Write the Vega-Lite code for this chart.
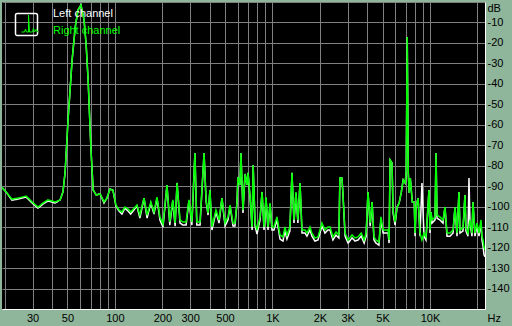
{
  "$schema": "https://vega.github.io/schema/vega-lite/v6.json",
  "width": 483,
  "height": 307,
  "autosize": {"type": "none"},
  "padding": {"left": 2, "top": 2, "right": 27, "bottom": 17},
  "background": "#8fb59a",
  "config": {
    "view": {"fill": "#000000", "stroke": null},
    "font": "Liberation Sans",
    "axis": {"labelFont": "Liberation Sans", "labelFontSize": 11, "labelColor": "#000000"}
  },
  "data": {"values": [
    {"channel":"Left channel","freq":19.1,"db":-90.4},{"channel":"Left channel","freq":20.6,"db":-93.3},{"channel":"Left channel","freq":22.2,"db":-96.8},{"channel":"Left channel","freq":24.3,"db":-96.3},{"channel":"Left channel","freq":27.3,"db":-95.3},{"channel":"Left channel","freq":29.8,"db":-98.2},{"channel":"Left channel","freq":32.5,"db":-100.7},{"channel":"Left channel","freq":35,"db":-98.7},{"channel":"Left channel","freq":37.6,"db":-97.2},{"channel":"Left channel","freq":41.7,"db":-98.2},{"channel":"Left channel","freq":44.9,"db":-96.7},{"channel":"Left channel","freq":46.8,"db":-92.8},{"channel":"Left channel","freq":48.3,"db":-83.1},{"channel":"Left channel","freq":50.4,"db":-57.7},{"channel":"Left channel","freq":53.5,"db":-28.3},{"channel":"Left channel","freq":56,"db":-12.2},{"channel":"Left channel","freq":58.3,"db":-3.9},{"channel":"Left channel","freq":60.9,"db":-1.5},{"channel":"Left channel","freq":63.7,"db":-8.8},{"channel":"Left channel","freq":65.7,"db":-21.0},{"channel":"Left channel","freq":67.6,"db":-38.1},{"channel":"Left channel","freq":70.5,"db":-72.3},{"channel":"Left channel","freq":72.8,"db":-91.9},{"channel":"Left channel","freq":76.1,"db":-94.3},{"channel":"Left channel","freq":80.6,"db":-93.8},{"channel":"Left channel","freq":85.3,"db":-98.2},{"channel":"Left channel","freq":89,"db":-95.8},{"channel":"Left channel","freq":93,"db":-91.4},{"channel":"Left channel","freq":97.2,"db":-91.9},{"channel":"Left channel","freq":101.5,"db":-99.7},{"channel":"Left channel","freq":106,"db":-102.1},{"channel":"Left channel","freq":110.8,"db":-103.6},{"channel":"Left channel","freq":115.7,"db":-100.7},{"channel":"Left channel","freq":121,"db":-102.1},{"channel":"Left channel","freq":126,"db":-103.6},{"channel":"Left channel","freq":138,"db":-99.7},{"channel":"Left channel","freq":144,"db":-105.6},{"channel":"Left channel","freq":153,"db":-95.8},{"channel":"Left channel","freq":160,"db":-105.6},{"channel":"Left channel","freq":169,"db":-98.2},{"channel":"Left channel","freq":177,"db":-103.6},{"channel":"Left channel","freq":185,"db":-95.8},{"channel":"Left channel","freq":193,"db":-106.5},{"channel":"Left channel","freq":202,"db":-110.0},{"channel":"Left channel","freq":214,"db":-89.4},{"channel":"Left channel","freq":223,"db":-109.0},{"channel":"Left channel","freq":233,"db":-97.2},{"channel":"Left channel","freq":241,"db":-109.5},{"channel":"Left channel","freq":248,"db":-88.4},{"channel":"Left channel","freq":259,"db":-108.0},{"channel":"Left channel","freq":270,"db":-109.0},{"channel":"Left channel","freq":283,"db":-109.0},{"channel":"Left channel","freq":295,"db":-97.2},{"channel":"Left channel","freq":308,"db":-109.0},{"channel":"Left channel","freq":322,"db":-73.8},{"channel":"Left channel","freq":331,"db":-109.0},{"channel":"Left channel","freq":347,"db":-109.0},{"channel":"Left channel","freq":368,"db":-73.8},{"channel":"Left channel","freq":379,"db":-97.2},{"channel":"Left channel","freq":390,"db":-104.1},{"channel":"Left channel","freq":401,"db":-91.9},{"channel":"Left channel","freq":413,"db":-111.4},{"channel":"Left channel","freq":438,"db":-102.6},{"channel":"Left channel","freq":458,"db":-108.0},{"channel":"Left channel","freq":478,"db":-95.8},{"channel":"Left channel","freq":500,"db":-109.5},{"channel":"Left channel","freq":522,"db":-106.5},{"channel":"Left channel","freq":538,"db":-99.7},{"channel":"Left channel","freq":562,"db":-109.5},{"channel":"Left channel","freq":578,"db":-109.5},{"channel":"Left channel","freq":595,"db":-98.7},{"channel":"Left channel","freq":604,"db":-85.5},{"channel":"Left channel","freq":622,"db":-89.4},{"channel":"Left channel","freq":631,"db":-73.8},{"channel":"Left channel","freq":650,"db":-103.1},{"channel":"Left channel","freq":670,"db":-84.0},{"channel":"Left channel","freq":690,"db":-89.4},{"channel":"Left channel","freq":700,"db":-83.5},{"channel":"Left channel","freq":721,"db":-95.8},{"channel":"Left channel","freq":743,"db":-111.4},{"channel":"Left channel","freq":754,"db":-79.6},{"channel":"Left channel","freq":776,"db":-109.5},{"channel":"Left channel","freq":798,"db":-113.4},{"channel":"Left channel","freq":834,"db":-106.5},{"channel":"Left channel","freq":859,"db":-92.8},{"channel":"Left channel","freq":884,"db":-111.4},{"channel":"Left channel","freq":910,"db":-95.8},{"channel":"Left channel","freq":937,"db":-111.4},{"channel":"Left channel","freq":965,"db":-98.7},{"channel":"Left channel","freq":993,"db":-111.4},{"channel":"Left channel","freq":1022,"db":-111.4},{"channel":"Left channel","freq":1068,"db":-106.5},{"channel":"Left channel","freq":1116,"db":-115.8},{"channel":"Left channel","freq":1166,"db":-116.8},{"channel":"Left channel","freq":1200,"db":-111.9},{"channel":"Left channel","freq":1236,"db":-115.8},{"channel":"Left channel","freq":1290,"db":-111.9},{"channel":"Left channel","freq":1330,"db":-83.5},{"channel":"Left channel","freq":1370,"db":-108.0},{"channel":"Left channel","freq":1410,"db":-93.3},{"channel":"Left channel","freq":1450,"db":-108.0},{"channel":"Left channel","freq":1496,"db":-88.4},{"channel":"Left channel","freq":1540,"db":-112.9},{"channel":"Left channel","freq":1610,"db":-112.9},{"channel":"Left channel","freq":1655,"db":-114.4},{"channel":"Left channel","freq":1730,"db":-111.4},{"channel":"Left channel","freq":1780,"db":-114.4},{"channel":"Left channel","freq":1860,"db":-116.8},{"channel":"Left channel","freq":1945,"db":-116.3},{"channel":"Left channel","freq":2060,"db":-109.5},{"channel":"Left channel","freq":2155,"db":-112.9},{"channel":"Left channel","freq":2250,"db":-111.4},{"channel":"Left channel","freq":2320,"db":-111.4},{"channel":"Left channel","freq":2420,"db":-116.3},{"channel":"Left channel","freq":2530,"db":-113.9},{"channel":"Left channel","freq":2640,"db":-115.3},{"channel":"Left channel","freq":2680,"db":-86.0},{"channel":"Left channel","freq":2760,"db":-86.0},{"channel":"Left channel","freq":2800,"db":-93.3},{"channel":"Left channel","freq":2890,"db":-114.4},{"channel":"Left channel","freq":3020,"db":-117.8},{"channel":"Left channel","freq":3200,"db":-115.3},{"channel":"Left channel","freq":3340,"db":-116.8},{"channel":"Left channel","freq":3490,"db":-116.3},{"channel":"Left channel","freq":3660,"db":-114.4},{"channel":"Left channel","freq":3820,"db":-117.8},{"channel":"Left channel","freq":3930,"db":-114.4},{"channel":"Left channel","freq":4040,"db":-92.8},{"channel":"Left channel","freq":4170,"db":-109.5},{"channel":"Left channel","freq":4290,"db":-97.7},{"channel":"Left channel","freq":4410,"db":-116.3},{"channel":"Left channel","freq":4540,"db":-117.8},{"channel":"Left channel","freq":4740,"db":-118.8},{"channel":"Left channel","freq":4880,"db":-106.5},{"channel":"Left channel","freq":5040,"db":-112.9},{"channel":"Left channel","freq":5250,"db":-112.9},{"channel":"Left channel","freq":5420,"db":-112.9},{"channel":"Left channel","freq":5500,"db":-117.8},{"channel":"Left channel","freq":5580,"db":-77.2},{"channel":"Left channel","freq":5740,"db":-78.7},{"channel":"Left channel","freq":5830,"db":-103.1},{"channel":"Left channel","freq":6000,"db":-109.0},{"channel":"Left channel","freq":6180,"db":-100.2},{"channel":"Left channel","freq":6370,"db":-98.2},{"channel":"Left channel","freq":6560,"db":-93.3},{"channel":"Left channel","freq":6760,"db":-86.9},{"channel":"Left channel","freq":6960,"db":-88.4},{"channel":"Left channel","freq":7060,"db":-83.1},{"channel":"Left channel","freq":7170,"db":-17.1},{"channel":"Left channel","freq":7280,"db":-83.5},{"channel":"Left channel","freq":7380,"db":-93.3},{"channel":"Left channel","freq":7500,"db":-86.0},{"channel":"Left channel","freq":7720,"db":-97.7},{"channel":"Left channel","freq":7940,"db":-97.7},{"channel":"Left channel","freq":8040,"db":-114.4},{"channel":"Left channel","freq":8150,"db":-100.2},{"channel":"Left channel","freq":8400,"db":-95.8},{"channel":"Left channel","freq":8640,"db":-114.4},{"channel":"Left channel","freq":8890,"db":-88.4},{"channel":"Left channel","freq":9160,"db":-114.4},{"channel":"Left channel","freq":9430,"db":-116.3},{"channel":"Left channel","freq":9850,"db":-91.9},{"channel":"Left channel","freq":10000,"db":-112.9},{"channel":"Left channel","freq":10150,"db":-102.6},{"channel":"Left channel","freq":10300,"db":-108.0},{"channel":"Left channel","freq":10760,"db":-106.5},{"channel":"Left channel","freq":10920,"db":-73.8},{"channel":"Left channel","freq":11080,"db":-105.6},{"channel":"Left channel","freq":11570,"db":-106.5},{"channel":"Left channel","freq":12090,"db":-108.0},{"channel":"Left channel","freq":12450,"db":-100.2},{"channel":"Left channel","freq":12820,"db":-114.4},{"channel":"Left channel","freq":13400,"db":-114.4},{"channel":"Left channel","freq":14000,"db":-112.9},{"channel":"Left channel","freq":14410,"db":-100.2},{"channel":"Left channel","freq":14840,"db":-114.4},{"channel":"Left channel","freq":15270,"db":-92.8},{"channel":"Left channel","freq":15500,"db":-112.9},{"channel":"Left channel","freq":16190,"db":-111.9},{"channel":"Left channel","freq":16670,"db":-94.3},{"channel":"Left channel","freq":16920,"db":-111.9},{"channel":"Left channel","freq":17420,"db":-114.4},{"channel":"Left channel","freq":17680,"db":-86.0},{"channel":"Left channel","freq":17940,"db":-108.0},{"channel":"Left channel","freq":18470,"db":-114.4},{"channel":"Left channel","freq":18740,"db":-97.7},{"channel":"Left channel","freq":19300,"db":-114.4},{"channel":"Left channel","freq":19870,"db":-109.5},{"channel":"Left channel","freq":20460,"db":-114.4},{"channel":"Left channel","freq":21070,"db":-108.0},{"channel":"Left channel","freq":21380,"db":-116.3},{"channel":"Left channel","freq":21700,"db":-119.3},{"channel":"Left channel","freq":22020,"db":-123.5},{"channel":"Left channel","freq":22340,"db":-124.5},
    {"channel":"Right channel","freq":19.1,"db":-90.4},{"channel":"Right channel","freq":20.6,"db":-93.3},{"channel":"Right channel","freq":22.2,"db":-96.3},{"channel":"Right channel","freq":24.3,"db":-95.8},{"channel":"Right channel","freq":27.3,"db":-94.8},{"channel":"Right channel","freq":29.8,"db":-97.7},{"channel":"Right channel","freq":32.5,"db":-100.2},{"channel":"Right channel","freq":35,"db":-98.2},{"channel":"Right channel","freq":37.6,"db":-96.7},{"channel":"Right channel","freq":41.7,"db":-97.7},{"channel":"Right channel","freq":44.9,"db":-96.7},{"channel":"Right channel","freq":46.8,"db":-92.8},{"channel":"Right channel","freq":48.3,"db":-83.1},{"channel":"Right channel","freq":50.4,"db":-57.7},{"channel":"Right channel","freq":53.5,"db":-28.3},{"channel":"Right channel","freq":56,"db":-12.2},{"channel":"Right channel","freq":58.3,"db":-3.9},{"channel":"Right channel","freq":60.9,"db":-1.5},{"channel":"Right channel","freq":63.7,"db":-8.8},{"channel":"Right channel","freq":65.7,"db":-21.0},{"channel":"Right channel","freq":67.6,"db":-38.1},{"channel":"Right channel","freq":70.5,"db":-72.3},{"channel":"Right channel","freq":72.8,"db":-91.9},{"channel":"Right channel","freq":76.1,"db":-94.3},{"channel":"Right channel","freq":80.6,"db":-93.8},{"channel":"Right channel","freq":85.3,"db":-97.7},{"channel":"Right channel","freq":89,"db":-95.8},{"channel":"Right channel","freq":93,"db":-91.4},{"channel":"Right channel","freq":97.2,"db":-91.9},{"channel":"Right channel","freq":101.5,"db":-99.2},{"channel":"Right channel","freq":106,"db":-101.6},{"channel":"Right channel","freq":110.8,"db":-102.6},{"channel":"Right channel","freq":115.7,"db":-100.2},{"channel":"Right channel","freq":121,"db":-101.1},{"channel":"Right channel","freq":126,"db":-102.6},{"channel":"Right channel","freq":138,"db":-99.2},{"channel":"Right channel","freq":144,"db":-104.1},{"channel":"Right channel","freq":153,"db":-95.8},{"channel":"Right channel","freq":160,"db":-104.1},{"channel":"Right channel","freq":169,"db":-97.7},{"channel":"Right channel","freq":177,"db":-102.6},{"channel":"Right channel","freq":185,"db":-95.3},{"channel":"Right channel","freq":193,"db":-105.0},{"channel":"Right channel","freq":202,"db":-108.5},{"channel":"Right channel","freq":214,"db":-89.4},{"channel":"Right channel","freq":223,"db":-107.5},{"channel":"Right channel","freq":233,"db":-96.7},{"channel":"Right channel","freq":241,"db":-108.0},{"channel":"Right channel","freq":248,"db":-88.4},{"channel":"Right channel","freq":259,"db":-106.5},{"channel":"Right channel","freq":270,"db":-107.5},{"channel":"Right channel","freq":283,"db":-107.5},{"channel":"Right channel","freq":295,"db":-96.7},{"channel":"Right channel","freq":308,"db":-107.5},{"channel":"Right channel","freq":322,"db":-73.8},{"channel":"Right channel","freq":331,"db":-107.5},{"channel":"Right channel","freq":347,"db":-107.5},{"channel":"Right channel","freq":368,"db":-73.8},{"channel":"Right channel","freq":379,"db":-96.7},{"channel":"Right channel","freq":390,"db":-103.1},{"channel":"Right channel","freq":401,"db":-91.9},{"channel":"Right channel","freq":413,"db":-109.9},{"channel":"Right channel","freq":438,"db":-101.6},{"channel":"Right channel","freq":458,"db":-106.5},{"channel":"Right channel","freq":478,"db":-95.8},{"channel":"Right channel","freq":500,"db":-108.0},{"channel":"Right channel","freq":522,"db":-105.0},{"channel":"Right channel","freq":538,"db":-99.2},{"channel":"Right channel","freq":562,"db":-108.0},{"channel":"Right channel","freq":578,"db":-108.0},{"channel":"Right channel","freq":595,"db":-98.2},{"channel":"Right channel","freq":604,"db":-85.5},{"channel":"Right channel","freq":622,"db":-89.4},{"channel":"Right channel","freq":631,"db":-73.8},{"channel":"Right channel","freq":650,"db":-101.6},{"channel":"Right channel","freq":670,"db":-84.0},{"channel":"Right channel","freq":690,"db":-89.4},{"channel":"Right channel","freq":700,"db":-83.5},{"channel":"Right channel","freq":721,"db":-95.3},{"channel":"Right channel","freq":743,"db":-109.9},{"channel":"Right channel","freq":754,"db":-79.6},{"channel":"Right channel","freq":776,"db":-108.0},{"channel":"Right channel","freq":798,"db":-111.4},{"channel":"Right channel","freq":834,"db":-105.0},{"channel":"Right channel","freq":859,"db":-92.8},{"channel":"Right channel","freq":884,"db":-109.9},{"channel":"Right channel","freq":910,"db":-95.3},{"channel":"Right channel","freq":937,"db":-109.9},{"channel":"Right channel","freq":965,"db":-98.2},{"channel":"Right channel","freq":993,"db":-109.9},{"channel":"Right channel","freq":1022,"db":-109.9},{"channel":"Right channel","freq":1068,"db":-105.0},{"channel":"Right channel","freq":1116,"db":-113.8},{"channel":"Right channel","freq":1166,"db":-114.8},{"channel":"Right channel","freq":1200,"db":-109.9},{"channel":"Right channel","freq":1236,"db":-113.8},{"channel":"Right channel","freq":1290,"db":-109.9},{"channel":"Right channel","freq":1330,"db":-83.5},{"channel":"Right channel","freq":1370,"db":-106.5},{"channel":"Right channel","freq":1410,"db":-92.8},{"channel":"Right channel","freq":1450,"db":-106.5},{"channel":"Right channel","freq":1496,"db":-88.4},{"channel":"Right channel","freq":1540,"db":-111.4},{"channel":"Right channel","freq":1610,"db":-111.4},{"channel":"Right channel","freq":1655,"db":-112.9},{"channel":"Right channel","freq":1730,"db":-109.9},{"channel":"Right channel","freq":1780,"db":-112.9},{"channel":"Right channel","freq":1860,"db":-115.3},{"channel":"Right channel","freq":1945,"db":-114.8},{"channel":"Right channel","freq":2060,"db":-108.0},{"channel":"Right channel","freq":2155,"db":-111.4},{"channel":"Right channel","freq":2250,"db":-109.9},{"channel":"Right channel","freq":2320,"db":-109.9},{"channel":"Right channel","freq":2420,"db":-114.8},{"channel":"Right channel","freq":2530,"db":-112.4},{"channel":"Right channel","freq":2640,"db":-113.8},{"channel":"Right channel","freq":2680,"db":-86.0},{"channel":"Right channel","freq":2760,"db":-86.0},{"channel":"Right channel","freq":2800,"db":-93.3},{"channel":"Right channel","freq":2890,"db":-112.9},{"channel":"Right channel","freq":3020,"db":-116.3},{"channel":"Right channel","freq":3200,"db":-113.8},{"channel":"Right channel","freq":3340,"db":-115.3},{"channel":"Right channel","freq":3490,"db":-114.8},{"channel":"Right channel","freq":3660,"db":-112.9},{"channel":"Right channel","freq":3820,"db":-116.3},{"channel":"Right channel","freq":3930,"db":-112.9},{"channel":"Right channel","freq":4040,"db":-92.8},{"channel":"Right channel","freq":4170,"db":-108.0},{"channel":"Right channel","freq":4290,"db":-97.7},{"channel":"Right channel","freq":4410,"db":-114.8},{"channel":"Right channel","freq":4540,"db":-116.3},{"channel":"Right channel","freq":4740,"db":-117.3},{"channel":"Right channel","freq":4880,"db":-105.0},{"channel":"Right channel","freq":5040,"db":-111.4},{"channel":"Right channel","freq":5250,"db":-111.4},{"channel":"Right channel","freq":5420,"db":-111.4},{"channel":"Right channel","freq":5500,"db":-116.3},{"channel":"Right channel","freq":5580,"db":-77.2},{"channel":"Right channel","freq":5740,"db":-78.7},{"channel":"Right channel","freq":5830,"db":-101.6},{"channel":"Right channel","freq":6000,"db":-107.5},{"channel":"Right channel","freq":6180,"db":-100.2},{"channel":"Right channel","freq":6370,"db":-98.2},{"channel":"Right channel","freq":6560,"db":-93.3},{"channel":"Right channel","freq":6760,"db":-86.9},{"channel":"Right channel","freq":6960,"db":-88.4},{"channel":"Right channel","freq":7060,"db":-83.1},{"channel":"Right channel","freq":7170,"db":-17.1},{"channel":"Right channel","freq":7280,"db":-83.5},{"channel":"Right channel","freq":7380,"db":-93.3},{"channel":"Right channel","freq":7500,"db":-86.0},{"channel":"Right channel","freq":7720,"db":-97.7},{"channel":"Right channel","freq":7940,"db":-97.7},{"channel":"Right channel","freq":8040,"db":-112.9},{"channel":"Right channel","freq":8150,"db":-100.2},{"channel":"Right channel","freq":8400,"db":-95.8},{"channel":"Right channel","freq":8640,"db":-112.9},{"channel":"Right channel","freq":8890,"db":-116.3},{"channel":"Right channel","freq":9160,"db":-112.9},{"channel":"Right channel","freq":9430,"db":-114.8},{"channel":"Right channel","freq":9850,"db":-91.9},{"channel":"Right channel","freq":10000,"db":-111.4},{"channel":"Right channel","freq":10150,"db":-102.6},{"channel":"Right channel","freq":10300,"db":-106.5},{"channel":"Right channel","freq":10760,"db":-105.0},{"channel":"Right channel","freq":10920,"db":-73.8},{"channel":"Right channel","freq":11080,"db":-104.1},{"channel":"Right channel","freq":11570,"db":-105.0},{"channel":"Right channel","freq":12090,"db":-106.5},{"channel":"Right channel","freq":12450,"db":-100.2},{"channel":"Right channel","freq":12820,"db":-112.9},{"channel":"Right channel","freq":13400,"db":-112.9},{"channel":"Right channel","freq":14000,"db":-111.4},{"channel":"Right channel","freq":14410,"db":-100.2},{"channel":"Right channel","freq":14840,"db":-112.9},{"channel":"Right channel","freq":15270,"db":-92.8},{"channel":"Right channel","freq":15500,"db":-111.4},{"channel":"Right channel","freq":16190,"db":-110.4},{"channel":"Right channel","freq":16670,"db":-94.3},{"channel":"Right channel","freq":16920,"db":-110.4},{"channel":"Right channel","freq":17420,"db":-112.9},{"channel":"Right channel","freq":17940,"db":-106.5},{"channel":"Right channel","freq":18470,"db":-112.9},{"channel":"Right channel","freq":18740,"db":-97.7},{"channel":"Right channel","freq":19300,"db":-112.9},{"channel":"Right channel","freq":19870,"db":-108.0},{"channel":"Right channel","freq":20460,"db":-112.9},{"channel":"Right channel","freq":21070,"db":-106.5},{"channel":"Right channel","freq":21380,"db":-114.8},{"channel":"Right channel","freq":21700,"db":-116.3},{"channel":"Right channel","freq":22020,"db":-119.7},{"channel":"Right channel","freq":22340,"db":-121.2}
  ]},
  "mark": {"type": "line", "strokeWidth": 1.5, "clip": true},
  "encoding": {
    "x": {
      "field": "freq", "type": "quantitative",
      "scale": {"type": "log", "domain": [19.2, 22340], "nice": false},
      "axis": {
        "title": null, "orient": "bottom",
        "values": [20,30,40,50,60,70,80,90,100,200,300,400,500,600,700,800,900,1000,2000,3000,4000,5000,6000,7000,8000,9000,10000,20000,22340],
        "labelExpr": "datum.value==30?'30':datum.value==50?'50':datum.value==100?'100':datum.value==200?'200':datum.value==300?'300':datum.value==500?'500':datum.value==1000?'1K':datum.value==2000?'2K':datum.value==3000?'3K':datum.value==5000?'5K':datum.value==10000?'10K':datum.value==22340?'Hz':''",
        "grid": true, "gridColor": "#808080", "gridOpacity": 1, "gridWidth": 1,
        "domain": true, "domainColor": "#ffffff", "domainWidth": 1,
        "ticks": false, "labelPadding": 3, "labelFlush": false, "labelOverlap": false,
        "labelAlign": {"condition": {"test": "datum.value == 22340", "value": "left"}, "value": "center"},
        "labelOffset": {"condition": {"test": "datum.value == 22340", "value": 2}, "value": 0}
      }
    },
    "y": {
      "field": "db", "type": "quantitative",
      "scale": {"domain": [-150, 0], "nice": false, "zero": false},
      "axis": {
        "title": null, "orient": "right",
        "values": [0,-10,-20,-30,-40,-50,-60,-70,-80,-90,-100,-110,-120,-130,-140],
        "labelExpr": "datum.value == 0 ? 'dB' : '' + datum.value",
        "grid": true, "gridColor": "#808080", "gridOpacity": 1, "gridWidth": 1,
        "domain": true, "domainColor": "#ffffff", "domainWidth": 1,
        "ticks": false, "labelPadding": 2, "labelFlush": false, "labelOverlap": false,
        "labelAlign": "left",
        "labelBaseline": {"condition": {"test": "datum.value == 0", "value": "top"}, "value": "middle"}
      }
    },
    "color": {
      "field": "channel", "type": "nominal",
      "scale": {"domain": ["Left channel", "Right channel"], "range": ["#ffffff", "#00ff00"]},
      "legend": {
        "title": null, "orient": "none", "legendX": 38, "legendY": 6, "direction": "vertical",
        "labelFont": "Liberation Sans", "labelFontSize": 11, "labelOffset": 2, "padding": 0, "rowPadding": 5,
        "symbolSize": 4, "symbolOpacity": 0,
        "encode": {
          "symbols": {"update": {"opacity": {"value": 0}}},
          "labels": {"update": {"fill": {"signal": "datum.index === 0 ? '#ffffff' : '#00ff00'"}}}
        }
      }
    },
    "strokeDash": {
      "field": "channel", "type": "nominal",
      "scale": {"domain": ["Right channel", "Left channel"], "range": [[1, 0], [1, 0]]},
      "legend": {
        "title": null, "orient": "none", "legendX": 19.5, "legendY": 17.5, "direction": "horizontal",
        "labelExpr": "''", "labelOffset": 0, "columnPadding": 0, "padding": 0,
        "symbolSize": 4,
        "encode": {
          "symbols": {"update": {
            "shape": {"signal": "datum.index === 0 ? 'M-9,-11H9Q11,-11,11,-9V9Q11,11,9,11H-9Q-11,11,-11,9V-9Q-11,-11,-9,-11Z' : 'M0,0'"},
            "fill": {"value": "transparent"},
            "stroke": {"signal": "datum.index === 0 ? '#ffffff' : 'transparent'"},
            "strokeWidth": {"value": 1.5},
            "strokeDash": {"value": [1, 0]},
            "opacity": {"signal": "datum.index === 0 ? 1 : 0"}
          }}
        }
      }
    },
    "opacity": {
      "field": "channel", "type": "nominal",
      "scale": {"range": [1, 1]},
      "legend": {
        "title": null, "orient": "none", "legendX": 22.5, "legendY": 17, "direction": "horizontal",
        "labelExpr": "''", "labelOffset": 0, "columnPadding": 0, "padding": 0,
        "symbolSize": 4,
        "encode": {
          "symbols": {"update": {
            "shape": {"signal": "datum.index === 0 ? 'M-8,8L-5,8L-4,5L-3,8L-1,8L-1,-9L0,8L3,8L4,4L5,8L7,5L8,8L9,8' : 'M0,0'"},
            "fill": {"value": "transparent"},
            "stroke": {"signal": "datum.index === 0 ? '#00ff00' : 'transparent'"},
            "strokeWidth": {"value": 1},
            "opacity": {"signal": "datum.index === 0 ? 1 : 0"}
          }}
        }
      }
    }
  }
}
